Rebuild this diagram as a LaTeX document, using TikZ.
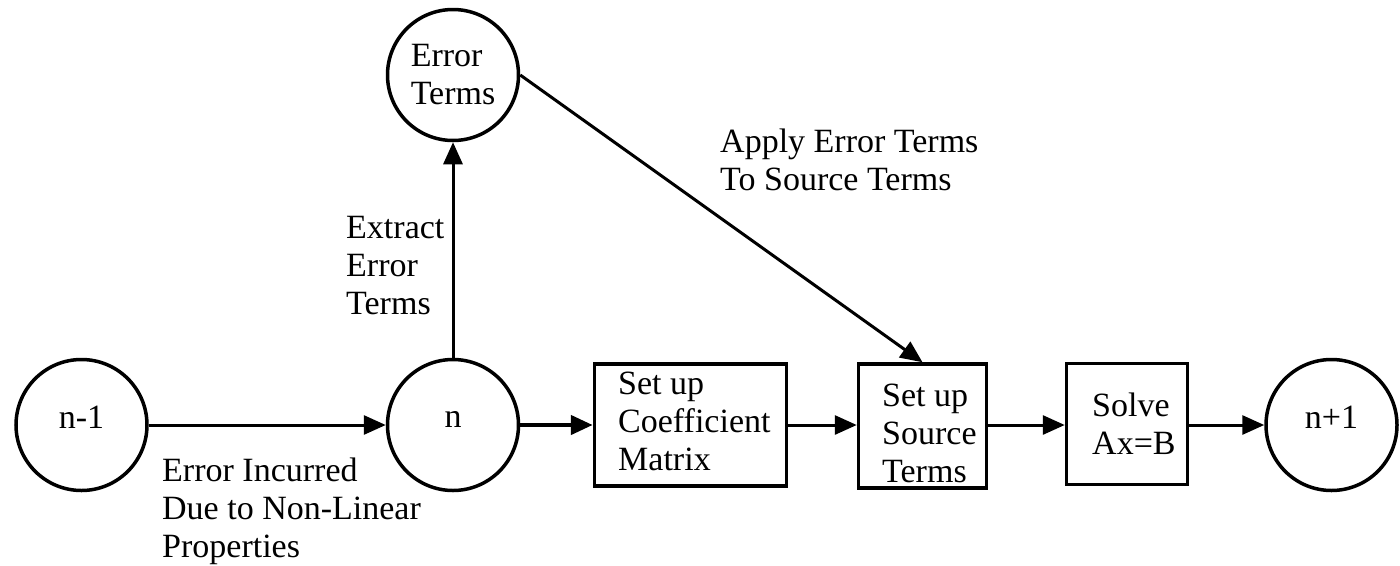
\documentclass[tikz,border=0pt]{standalone}
\usepackage{fontspec}
\setmainfont{Liberation Serif}
\usetikzlibrary{arrows.meta}
\begin{document}
\begin{tikzpicture}[x=1pt,y=-1pt,
  every node/.style={font=\fontsize{34}{38}\selectfont},
  circ/.style={draw, circle, line width=3.5pt, minimum size=131pt, inner sep=0pt},
  box/.style={draw, rectangle, line width=3.5pt, inner sep=0pt},
  txt/.style={inner sep=0pt, align=left},
  conn/.style={line width=3pt, -{Triangle[length=22pt,width=19pt]}}]
\useasboundingbox (0,0) rectangle (1400,565);
% circles
\node[circ] (nm1) at (81.5,425) {};
\node[txt] (nm1t) at (81.5,417) {n-1};
\node[circ] (n) at (453,425) {};
\node[txt] (nt) at (453,419) {n};
\node[circ] (np1) at (1331.5,425) {};
\node[txt] (np1t) at (1331.5,417) {n+1};
\node[circ, align=left] (et) at (453,75) {Error\\Terms};
% boxes
\node[box, minimum width=192pt, minimum height=122pt] (coef) at (690.5,425) {};
\node[txt, anchor=north west] (coeft) at (618,372) {Set up\\Coefficient\\Matrix};
\node[box, minimum width=128pt, minimum height=124pt] (src) at (922.5,426) {};
\node[txt, anchor=north west] (srct) at (882,384) {Set up\\Source\\Terms};
\node[box, minimum width=121pt, minimum height=121pt] (solve) at (1127,424) {};
\node[txt, anchor=north west] (solvet) at (1092,393) {Solve\\Ax=B};
% connector labels
\node[txt, anchor=north west] (lblinc) at (162,458) {Error Incurred\\Due to Non-Linear\\Properties};
\node[txt, anchor=north west] (lblext) at (346,216) {Extract\\Error\\Terms};
\node[txt, anchor=north west] (lblapp) at (720,129) {Apply Error Terms\\To Source Terms};
% connectors
\draw[conn] (nm1) -- (n);
\draw[conn, line width=4.5pt] (n) -- (coef);
\draw[conn] (coef.east |- 0,425) -- (src.west |- 0,425);
\draw[conn] (src.east |- 0,425) -- (solve.west |- 0,425);
\draw[conn] (solve.east |- 0,425) -- (np1);
\draw[conn] (n) -- (et);
\draw[conn] (et.east) -- (src.north);
\end{tikzpicture}
\end{document}
